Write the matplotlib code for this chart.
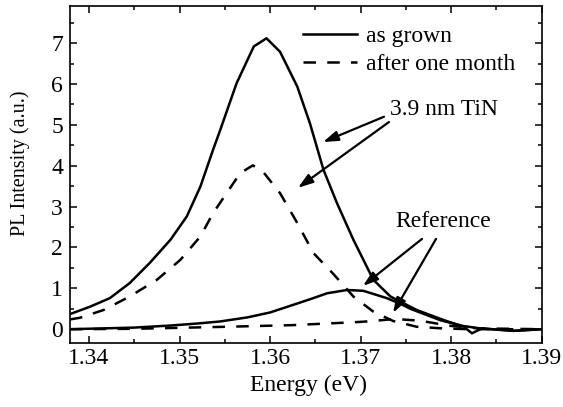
import matplotlib
matplotlib.use("Agg")
import matplotlib.pyplot as plt
from matplotlib.ticker import MultipleLocator

plt.rcParams['font.family'] = ['Liberation Serif', 'DejaVu Serif']

# 3.9 nm TiN, as grown (solid)
tin_grown_x = [1.3379, 1.3401, 1.3423, 1.3445, 1.3467, 1.3490, 1.3508, 1.3523, 1.3537,
               1.3545, 1.3563, 1.3582, 1.3596, 1.3611, 1.3630, 1.3644, 1.3659, 1.3674,
               1.3692, 1.3714, 1.3733, 1.3762, 1.3791, 1.3814, 1.3823, 1.3834, 1.3869, 1.3900]
tin_grown_y = [0.37, 0.55, 0.76, 1.13, 1.62, 2.19, 2.76, 3.49, 4.39,
               4.88, 6.02, 6.92, 7.12, 6.79, 5.94, 5.04, 3.90, 3.08,
               2.19, 1.21, 0.80, 0.47, 0.23, 0.06, -0.10, 0.02, -0.04, 0.0]

# 3.9 nm TiN, after one month (dashed)
tin_month_x = [1.3379, 1.3390, 1.3416, 1.3445, 1.3475, 1.3501, 1.3523, 1.3537, 1.3552,
               1.3567, 1.3581, 1.3592, 1.3611, 1.3630, 1.3648, 1.3670, 1.3692, 1.3714,
               1.3736, 1.3762, 1.3790, 1.3820, 1.3860, 1.3900]
tin_month_y = [0.24, 0.28, 0.47, 0.80, 1.21, 1.70, 2.27, 2.84, 3.33,
               3.82, 4.01, 3.86, 3.33, 2.60, 1.86, 1.35, 0.80, 0.43,
               0.20, 0.06, 0.02, 0.0, 0.0, 0.0]

# Reference, as grown (solid)
ref_grown_x = [1.3379, 1.3450, 1.3490, 1.3520, 1.3545, 1.3575, 1.3600, 1.3626, 1.3645,
               1.3663, 1.3685, 1.3703, 1.3729, 1.3744, 1.3755, 1.3788, 1.3813, 1.3832,
               1.3869, 1.3900]
ref_grown_y = [0.0, 0.04, 0.09, 0.14, 0.19, 0.29, 0.41, 0.60, 0.74,
               0.88, 0.96, 0.94, 0.76, 0.62, 0.50, 0.22, 0.08, 0.02,
               -0.04, 0.0]

# Reference, after one month (dashed)
ref_month_x = [1.3379, 1.3450, 1.3552, 1.3625, 1.3692, 1.3707, 1.3738, 1.3765, 1.3800,
               1.3830, 1.3900]
ref_month_y = [0.0, 0.01, 0.06, 0.10, 0.17, 0.19, 0.25, 0.21, 0.08, 0.02, 0.0]

legend_labels = ["as grown", "after one month"]

fig = plt.figure(figsize=(5.63, 4.07), dpi=100)
ax = fig.add_axes([70/563, 1-342.7/407, 471.7/563, 336.7/407])

lw = 1.8
dash = (5, 4.5)
l1, = ax.plot(tin_grown_x, tin_grown_y, color='black', lw=lw)
l2, = ax.plot(tin_month_x, tin_month_y, color='black', lw=lw, linestyle=(0, dash))
ax.plot(ref_grown_x, ref_grown_y, color='black', lw=lw)
ax.plot(ref_month_x, ref_month_y, color='black', lw=lw, linestyle=(0, dash))

ax.set_xlim(1.3379, 1.39)
ax.set_ylim(-0.33, 7.91)
ax.xaxis.set_major_locator(MultipleLocator(0.01))
ax.xaxis.set_minor_locator(MultipleLocator(0.005))
ax.yaxis.set_major_locator(MultipleLocator(1))
ax.yaxis.set_minor_locator(MultipleLocator(0.5))
ax.xaxis.set_major_formatter(matplotlib.ticker.FormatStrFormatter('%.2f'))

ax.tick_params(which='both', direction='in', top=True, right=True, width=1.1)
ax.tick_params(which='major', length=5, labelsize=17)
ax.tick_params(which='minor', length=3)
ax.tick_params(axis='x', pad=4)
ax.tick_params(axis='y', pad=5)
for s in ax.spines.values():
    s.set_linewidth(1.2)

ax.set_xlabel("Energy (eV)", fontsize=17)
ax.xaxis.label.set_verticalalignment('center')
ax.xaxis.set_label_coords(0.5046, -0.126)
ax.set_ylabel("PL Intensity (a.u.)", fontsize=14.5)
ax.yaxis.label.set_verticalalignment('center')
ax.yaxis.set_label_coords(-0.106, 0.534)

ax.legend([l1, l2], legend_labels, loc='upper left', bbox_to_anchor=(0.494, 0.941),
          frameon=False, fontsize=17, borderaxespad=0, borderpad=0,
          handlelength=2.29, handletextpad=0.38, labelspacing=0.26)

arrow = dict(arrowstyle='-|>,head_length=0.6,head_width=0.2', color='black',
             lw=1.6, mutation_scale=15, shrinkA=0, shrinkB=0)

ax.text(1.3792, 5.37, "3.9 nm TiN", fontsize=17, ha='center', va='center')
ax.annotate('', xy=(1.36585, 4.58), xytext=(1.37258, 5.20), arrowprops=arrow)
ax.annotate('', xy=(1.36308, 3.46), xytext=(1.37313, 5.07), arrowprops=arrow)

ax.text(1.3791, 2.63, "Reference", fontsize=17, ha='center', va='center')
ax.annotate('', xy=(1.37026, 1.06), xytext=(1.37678, 2.21), arrowprops=arrow)
ax.annotate('', xy=(1.37358, 0.40), xytext=(1.37833, 2.21), arrowprops=arrow)

fig.savefig("out.png", dpi=100)
